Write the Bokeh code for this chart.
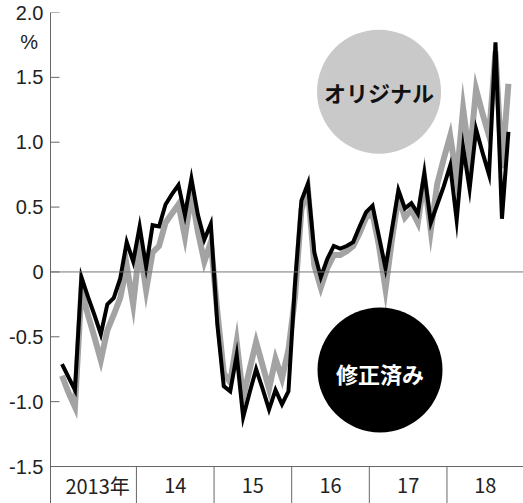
from bokeh.plotting import figure
from bokeh.models import Range1d, FixedTicker, Span
from bokeh.core.properties import value
from bokeh.embed import file_html
from bokeh.resources import INLINE

# ---- data (monthly, Jan 2013 .. Oct 2018) ----
start_year = 2013
revised = [
    -0.71, -0.81, -0.91, -0.04, -0.19, -0.33, -0.48, -0.25, -0.20, -0.05, 0.23, 0.08,
    0.35, 0.04, 0.36, 0.35, 0.52, 0.60, 0.67, 0.44, 0.72, 0.44, 0.25, 0.37,
    -0.40, -0.88, -0.92, -0.64, -1.12, -0.93, -0.75, -0.90, -1.06, -0.91, -1.02, -0.92,
    -0.10, 0.55, 0.68, 0.15, -0.04, 0.10, 0.20, 0.18, 0.20, 0.23, 0.35, 0.46,
    0.51, 0.27, 0.03, 0.33, 0.63, 0.49, 0.53, 0.45, 0.76, 0.38, 0.52, 0.66,
    0.82, 0.40, 0.96, 0.64, 1.10, 0.92, 0.75, 1.77, 0.41, 1.08,
]
original = [
    -0.80, -0.93, -1.04, -0.14, -0.33, -0.50, -0.68, -0.45, -0.33, -0.20, 0.05, -0.25,
    0.20, -0.14, 0.15, 0.20, 0.38, 0.45, 0.52, 0.27, 0.60, 0.31, 0.08, 0.23,
    -0.30, -0.78, -0.85, -0.54, -0.97, -0.75, -0.54, -0.72, -0.90, -0.67, -0.82, -0.60,
    -0.20, 0.48, 0.64, 0.05, -0.12, 0.03, 0.13, 0.13, 0.16, 0.20, 0.30, 0.42,
    0.45, 0.20, -0.13, 0.25, 0.58, 0.42, 0.48, 0.38, 0.72, 0.32, 0.68, 0.87,
    1.05, 0.72, 1.26, 0.88, 1.41, 1.22, 1.05, 1.70, 0.80, 1.45,
]
months = list(range(len(revised)))
year_labels = ["2013年", "14", "15", "16", "17", "18"]
y_ticks = [-1.5, -1.0, -0.5, 0, 0.5, 1.0, 1.5, 2.0]
y_tick_labels = ["-1.5", "-1.0", "-0.5", "0", "0.5", "1.0", "1.5", "2.0"]
series_names = ["オリジナル", "修正済み"]
unit_label = "%"
unit_pos = 1.77

FONT = "Noto Sans CJK JP"
NUM_FONT = "Liberation Sans"
x_min, x_max = -1.78, 71.33
y_min_axis, y_max = -1.5, 2.0
y_bottom = -1.785
px_per_month = 473 / (x_max - x_min)

p = figure(width=523, height=503, output_backend="svg", toolbar_location=None,
           x_range=Range1d(x_min, x_max), y_range=Range1d(y_bottom, y_max),
           x_axis_location=None, min_border_left=50, min_border_right=0,
           min_border_top=12, min_border_bottom=0)
p.grid.visible = False
p.outline_line_color = None
p.background_fill_color = "white"
p.border_fill_color = "white"

ax = p.yaxis[0]
ax.ticker = FixedTicker(ticks=y_ticks + [unit_pos])
overrides = {t: l for t, l in zip(y_ticks, y_tick_labels)}
overrides[unit_pos] = unit_label + "\u00a0"
ax.major_label_overrides = overrides
ax.minor_tick_line_color = None
ax.major_tick_line_color = None
ax.major_tick_in = 0
ax.major_tick_out = 0
ax.axis_line_color = "#666666"
ax.axis_line_width = 1
ax.major_label_standoff = 7
ax.major_label_text_font = NUM_FONT
ax.major_label_text_font_size = "20px"
ax.major_label_text_color = "#222222"

# inner tick marks for the value ticks only
tick_len = 9 / px_per_month
p.segment(x0=[x_min] * len(y_ticks), y0=y_ticks, x1=[x_min + tick_len] * len(y_ticks),
          y1=y_ticks, line_color="#666666", line_width=1)

# zero line and bottom baseline
p.add_layout(Span(location=0, dimension="width", line_color="#777777", line_width=1))
p.add_layout(Span(location=y_min_axis, dimension="width", line_color="#666666", line_width=1))

# year separators and labels
n_years = len(year_labels)
seps = [12 * k - 0.5 for k in range(1, n_years)]
p.segment(x0=seps, y0=[y_min_axis] * len(seps), x1=seps, y1=[y_bottom] * len(seps),
          line_color="#666666", line_width=1)
lab_x = []
for k in range(n_years):
    a = max(12 * k - 0.5, x_min)
    b = min(12 * k + 11.5, x_max)
    lab_x.append((a + b) / 2)
p.text(x=lab_x, y=[(y_min_axis + y_bottom) / 2] * n_years, text=year_labels,
       text_font=value(FONT), text_font_size="20px", text_color="#222222",
       text_align="center", text_baseline="middle")

# series
p.line(months, original, line_color="#a3a3a3", line_width=6, line_join="miter")
p.line(months, revised, line_color="#000000", line_width=4, line_join="miter")

# legend circles
p.scatter(x=[49.0], y=[1.39], marker="circle", size=124, fill_color="#c9c9c9",
          line_color=None)
p.scatter(x=[49.15], y=[-0.755], marker="circle", size=125, fill_color="#000000",
          line_color=None)
p.text(x=[49.0], y=[1.39], text=[series_names[0]], text_font=value(FONT),
       text_font_size="22px", text_font_style="bold", text_color="#111111",
       text_align="center", text_baseline="middle")
p.text(x=[49.15], y=[-0.78], text=[series_names[1]], text_font=value(FONT),
       text_font_size="22px", text_font_style="bold", text_color="#ffffff",
       text_align="center", text_baseline="middle")

open("out.html", "w").write(file_html(p, INLINE))
